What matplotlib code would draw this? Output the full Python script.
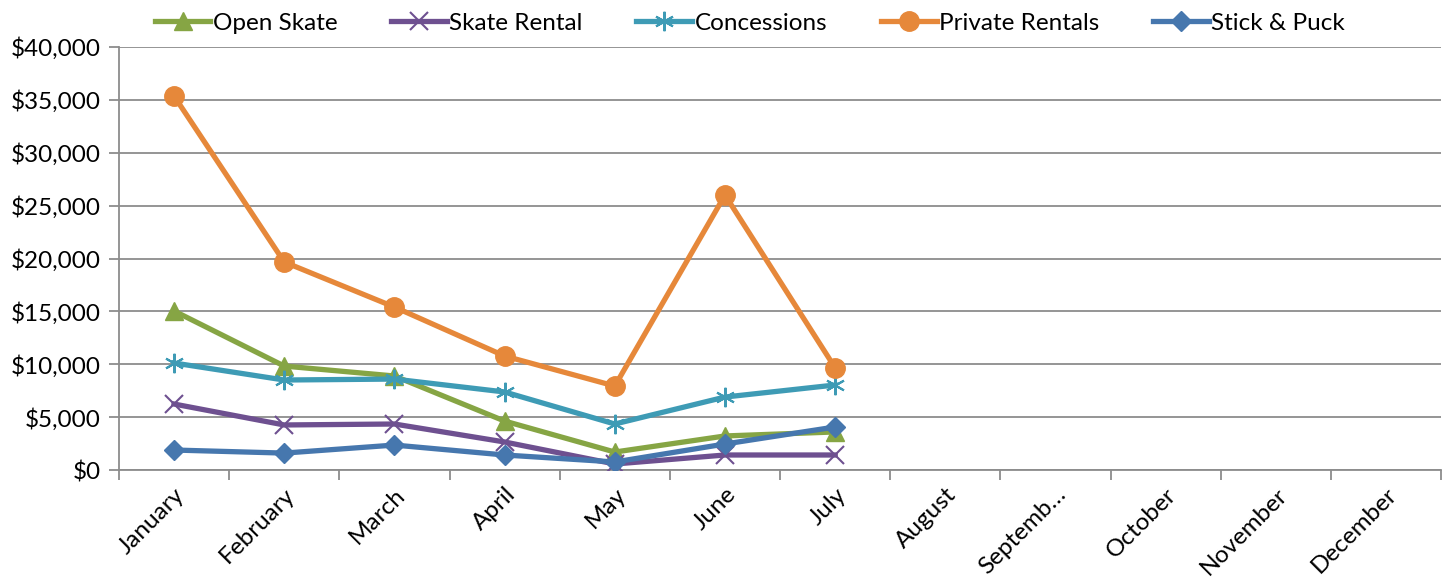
import matplotlib.pyplot as plt
import numpy as np

months = ["January", "February", "March", "April", "May", "June", "July",
          "August", "Septemb\u2026", "October", "November", "December"]

# values (Jan-Jul only)
open_skate = [15040, 9830, 8890, 4630, 1700, 3220, 3600]
skate_rental = [6240, 4260, 4350, 2650, 570, 1420, 1420]
concessions = [10120, 8510, 8600, 7380, 4350, 6900, 8040]
private_rentals = [35370, 19670, 15410, 10780, 7940, 26000, 9650]
stick_puck = [1890, 1600, 2360, 1420, 760, 2460, 4070]

plt.rcParams['font.family'] = ['Lato', 'DejaVu Sans']
fs = 17.5

fig = plt.figure(figsize=(14.5, 5.83), dpi=100)
ax = fig.add_axes([0.082, 0.1938, 0.912, 0.7256])

x = np.arange(len(open_skate))
lw = 3.8
ax.plot(x, open_skate, color="#86A544", lw=lw, marker="^", ms=13, label="Open Skate", zorder=3)
ax.plot(x, skate_rental, color="#6E5090", lw=lw, marker="x", ms=13, mew=1.5, label="Skate Rental", zorder=3)
ax.plot(x, concessions, color="#3E9BB5", lw=lw, marker=(6, 2, 0), ms=14, mew=1.5, label="Concessions", zorder=3)
ax.plot(x, private_rentals, color="#E6883A", lw=lw, marker="o", ms=14, label="Private Rentals", zorder=3)
ax.plot(x, stick_puck, color="#4677AE", lw=lw, marker="D", ms=10, label="Stick & Puck", zorder=3)

ax.set_xlim(-0.5, len(months) - 0.5)
ax.set_ylim(0, 40000)
ax.set_yticks(np.arange(0, 40001, 5000))
ax.set_yticklabels(["${:,.0f}".format(v) for v in np.arange(0, 40001, 5000)], fontsize=fs)
ax.set_xticks(np.arange(len(months)))
ax.set_xticklabels(months, rotation=45, ha="right", rotation_mode="anchor", fontsize=fs)
ax.set_xticks(np.arange(-0.5, len(months)), minor=True)
ax.tick_params(axis="x", which="major", length=0, pad=10)
ax.tick_params(axis="x", which="minor", length=7, color="#8C8C8C", width=1.3)
ax.tick_params(axis="y", length=7, color="#8C8C8C", width=1.3, pad=6)

ax.grid(axis="y", color="#8C8C8C", lw=1.3)
ax.set_axisbelow(True)
for s in ["top", "right"]:
    ax.spines[s].set_visible(False)
for s in ["left", "bottom"]:
    ax.spines[s].set_color("#8C8C8C")
    ax.spines[s].set_linewidth(1.3)

ax.legend(loc="lower center", bbox_to_anchor=(0.477, 1.003), ncol=5, frameon=False,
          fontsize=fs, handlelength=2.3, handletextpad=0.1, columnspacing=2.2,
          borderaxespad=0.1)

fig.savefig("out.png", dpi=100)
